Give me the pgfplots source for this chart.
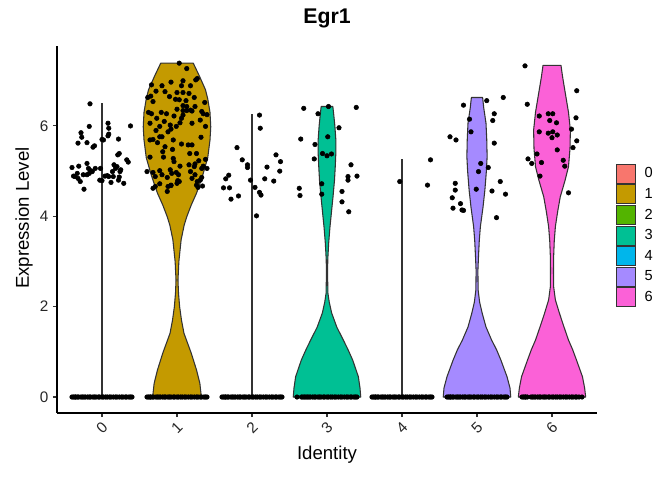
\documentclass[border=0pt]{standalone}
\usepackage{pgfplots}
\pgfplotsset{compat=1.18}
\usepackage{fontspec}
\setmainfont{Liberation Sans}
\definecolor{c0}{HTML}{F8766D}
\definecolor{c1}{HTML}{C49A00}
\definecolor{c2}{HTML}{53B400}
\definecolor{c3}{HTML}{00C094}
\definecolor{c4}{HTML}{00B6EB}
\definecolor{c5}{HTML}{A58AFF}
\definecolor{c6}{HTML}{FB61D7}
\definecolor{vl}{HTML}{333333}
\begin{document}
\begin{tikzpicture}
\useasboundingbox (0,0) rectangle (504bp,360bp);
\begin{axis}[
  at={(42.75bp,50.25bp)}, anchor=south west,
  scale only axis, width=405bp, height=275.25bp,
  xmin=-0.6, xmax=6.6, ymin=-0.354, ymax=7.77,
  axis x line*=bottom, axis y line*=left,
  axis line style={line width=0.8bp, black},
  tick align=outside, major tick length=3bp,
  tick style={line width=0.8bp, black!80},
  xtick={0,1,2,3,4,5,6}, xticklabels={0,1,2,3,4,5,6},
  ytick={0,2,4,6}, yticklabels={0,2,4,6},
  /pgf/number format/assume math mode=true,
  tick label style={font=\fontsize{11.5}{13}\selectfont, text=black!85},
  xticklabel style={yshift=-8.4bp, rotate=45, anchor=center},
  title={Egr1},
  title style={at={(axis description cs:0.5,1.039)}, anchor=base, yshift=0pt, font=\fontsize{16}{18}\selectfont\bfseries},
  xlabel={Identity},
  xlabel style={at={(axis description cs:0.5,-0.126)}, anchor=base, font=\fontsize{14}{16}\selectfont},
  ylabel={Expression Level},
  ylabel style={at={(axis description cs:-0.061,0.531)}, anchor=center, font=\fontsize{14}{16}\selectfont},
  legend image code/.code={\draw[#1] (0bp,-7.125bp) rectangle (14.25bp,7.125bp);},
  legend style={at={(axis description cs:1.035,0.68)}, anchor=north west, draw=none, fill=none,
    inner sep=0pt, outer sep=0pt, row sep=0pt, column sep=6.75bp,
    nodes={inner sep=0pt, minimum height=15.45bp, font=\fontsize{11}{13}\selectfont}},
  legend cell align=left,
]
% violins 0, 2, 4 (degenerate)
\addplot[forget plot, draw=vl, line width=0.8bp] coordinates {(0,0) (0,6.51)};
\addplot[forget plot, draw=vl, line width=0.8bp] coordinates {(2,0) (2,6.26)};
\addplot[forget plot, draw=vl, line width=0.8bp] coordinates {(4,0) (4,5.26)};
% violin 1
\addplot[forget plot, fill=c1, draw=vl, line width=0.8bp, line join=round] coordinates {
(1.325,0) (1.305,0.3) (1.26,0.6) (1.19,0.97) (1.093,1.41) (1.06,1.7) (1.035,2.0) (1.02,2.3) (1.013,2.59) (1.025,3.0) (1.055,3.48) (1.095,3.8) (1.13,3.99) (1.19,4.25) (1.26,4.51) (1.31,4.75) (1.35,4.95) (1.41,5.3) (1.44,5.69) (1.45,5.98) (1.44,6.3) (1.41,6.6) (1.38,6.8) (1.30,7.1) (1.217,7.39)
(0.783,7.39) (0.70,7.1) (0.62,6.8) (0.59,6.6) (0.56,6.3) (0.55,5.98) (0.56,5.69) (0.59,5.3) (0.65,4.95) (0.69,4.75) (0.74,4.51) (0.81,4.25) (0.87,3.99) (0.905,3.8) (0.945,3.48) (0.975,3.0) (0.987,2.59) (0.98,2.3) (0.965,2.0) (0.94,1.7) (0.907,1.41) (0.81,0.97) (0.74,0.6) (0.695,0.3) (0.675,0)
} -- cycle;
% violin 3
\addplot[forget plot, fill=c3, draw=vl, line width=0.8bp, line join=round] coordinates {
(3.45,0) (3.44,0.2) (3.418,0.45) (3.342,0.82) (3.28,1.05) (3.218,1.26) (3.13,1.55) (3.062,1.86) (3.03,2.1) (3.012,2.3) (3.008,2.7) (3.01,3.03) (3.022,3.4) (3.04,3.77) (3.06,4.1) (3.08,4.43) (3.10,4.8) (3.11,5.1) (3.118,5.4) (3.118,5.69) (3.105,6.0) (3.09,6.25) (3.078,6.43)
(2.922,6.43) (2.91,6.25) (2.895,6.0) (2.882,5.69) (2.882,5.4) (2.89,5.1) (2.90,4.8) (2.92,4.43) (2.94,4.1) (2.96,3.77) (2.978,3.4) (2.99,3.03) (2.992,2.7) (2.988,2.3) (2.97,2.1) (2.938,1.86) (2.87,1.55) (2.782,1.26) (2.72,1.05) (2.658,0.82) (2.582,0.45) (2.56,0.2) (2.55,0)
} -- cycle;
% violin 5
\addplot[forget plot, fill=c5, draw=vl, line width=0.8bp, line join=round] coordinates {
(5.45,0) (5.44,0.2) (5.40,0.45) (5.318,0.82) (5.26,1.05) (5.195,1.26) (5.12,1.55) (5.07,1.85) (5.035,2.1) (5.015,2.37) (5.012,2.8) (5.02,3.11) (5.03,3.45) (5.045,3.77) (5.08,4.2) (5.105,4.58) (5.125,5.0) (5.135,5.32) (5.13,5.7) (5.12,6.06) (5.09,6.4) (5.075,6.63)
(4.925,6.63) (4.91,6.4) (4.88,6.06) (4.87,5.7) (4.865,5.32) (4.875,5.0) (4.895,4.58) (4.92,4.2) (4.955,3.77) (4.97,3.45) (4.98,3.11) (4.988,2.8) (4.985,2.37) (4.965,2.1) (4.93,1.85) (4.88,1.55) (4.805,1.26) (4.74,1.05) (4.682,0.82) (4.60,0.45) (4.56,0.2) (4.55,0)
} -- cycle;
% violin 6
\addplot[forget plot, fill=c6, draw=vl, line width=0.8bp, line join=round] coordinates {
(6.449,0) (6.435,0.2) (6.406,0.45) (6.326,0.82) (6.275,1.05) (6.22,1.26) (6.16,1.55) (6.10,1.85) (6.045,2.15) (6.022,2.44) (6.02,2.8) (6.022,3.11) (6.03,3.45) (6.045,3.77) (6.075,4.1) (6.11,4.43) (6.175,4.8) (6.22,5.1) (6.24,5.5) (6.245,5.91) (6.22,6.3) (6.19,6.6) (6.17,6.8) (6.14,7.1) (6.12,7.34)
(5.88,7.34) (5.86,7.1) (5.83,6.8) (5.81,6.6) (5.78,6.3) (5.755,5.91) (5.76,5.5) (5.78,5.1) (5.825,4.8) (5.89,4.43) (5.925,4.1) (5.955,3.77) (5.97,3.45) (5.978,3.11) (5.98,2.8) (5.978,2.44) (5.955,2.15) (5.90,1.85) (5.84,1.55) (5.78,1.26) (5.725,1.05) (5.674,0.82) (5.594,0.45) (5.565,0.2) (5.551,0)
} -- cycle;
% zero-valued cells
\addplot[forget plot, only marks, mark=*, mark size=1.7bp, black] coordinates {
(-0.40,0) (-0.38,0) (-0.36,0) (-0.35,0) (-0.33,0) (-0.31,0) (-0.28,0) (-0.26,0) (-0.24,0) (-0.22,0) (-0.19,0) (-0.17,0) (-0.15,0) (-0.12,0) (-0.10,0) (-0.08,0) (-0.05,0) (-0.03,0) (0.00,0) (0.02,0) (0.05,0) (0.07,0) (0.10,0) (0.12,0) (0.15,0) (0.18,0) (0.20,0) (0.23,0) (0.26,0) (0.28,0) (0.31,0) (0.33,0) (0.36,0) (0.38,0) (0.40,0)
(0.60,0) (0.62,0) (0.64,0) (0.65,0) (0.67,0) (0.69,0) (0.72,0) (0.74,0) (0.76,0) (0.78,0) (0.81,0) (0.83,0) (0.85,0) (0.88,0) (0.90,0) (0.92,0) (0.95,0) (0.97,0) (1.00,0) (1.02,0) (1.05,0) (1.07,0) (1.10,0) (1.12,0) (1.15,0) (1.18,0) (1.20,0) (1.23,0) (1.26,0) (1.28,0) (1.31,0) (1.33,0) (1.36,0) (1.38,0) (1.40,0)
(1.60,0) (1.62,0) (1.64,0) (1.65,0) (1.67,0) (1.69,0) (1.72,0) (1.74,0) (1.76,0) (1.78,0) (1.81,0) (1.83,0) (1.85,0) (1.88,0) (1.90,0) (1.92,0) (1.95,0) (1.97,0) (2.00,0) (2.02,0) (2.05,0) (2.07,0) (2.10,0) (2.12,0) (2.15,0) (2.18,0) (2.20,0) (2.23,0) (2.26,0) (2.28,0) (2.31,0) (2.33,0) (2.36,0) (2.38,0) (2.40,0)
(2.60,0) (2.66,0) (2.68,0) (2.70,0) (2.72,0) (2.74,0) (2.76,0) (2.78,0) (2.81,0) (2.83,0) (2.85,0) (2.88,0) (2.90,0) (2.92,0) (2.95,0) (2.97,0) (3.00,0) (3.02,0) (3.05,0) (3.07,0) (3.10,0) (3.12,0) (3.15,0) (3.18,0) (3.20,0) (3.23,0) (3.26,0) (3.28,0) (3.31,0) (3.33,0) (3.36,0) (3.38,0) (3.40,0)
(3.60,0) (3.62,0) (3.64,0) (3.65,0) (3.67,0) (3.69,0) (3.72,0) (3.74,0) (3.76,0) (3.78,0) (3.81,0) (3.83,0) (3.85,0) (3.88,0) (3.90,0) (3.92,0) (3.95,0) (3.97,0) (4.00,0) (4.02,0) (4.05,0) (4.07,0) (4.10,0) (4.12,0) (4.15,0) (4.18,0) (4.20,0) (4.23,0) (4.26,0) (4.28,0) (4.31,0) (4.33,0) (4.36,0) (4.38,0) (4.40,0)
(4.60,0) (4.62,0) (4.64,0) (4.65,0) (4.67,0) (4.69,0) (4.72,0) (4.74,0) (4.76,0) (4.78,0) (4.81,0) (4.83,0) (4.85,0) (4.88,0) (4.90,0) (4.92,0) (4.95,0) (4.97,0) (5.00,0) (5.02,0) (5.05,0) (5.07,0) (5.10,0) (5.12,0) (5.15,0) (5.18,0) (5.20,0) (5.23,0) (5.26,0) (5.28,0) (5.31,0) (5.33,0) (5.36,0) (5.38,0) (5.40,0)
(5.60,0) (5.62,0) (5.64,0) (5.65,0) (5.67,0) (5.72,0) (5.74,0) (5.76,0) (5.78,0) (5.81,0) (5.83,0) (5.85,0) (5.88,0) (5.90,0) (5.92,0) (5.95,0) (5.97,0) (6.00,0) (6.02,0) (6.05,0) (6.07,0) (6.10,0) (6.12,0) (6.15,0) (6.18,0) (6.20,0) (6.23,0) (6.26,0) (6.28,0) (6.31,0) (6.33,0) (6.36,0) (6.40,0)
};
% expressing cells
\addplot[forget plot, only marks, mark=*, mark size=1.7bp, black] table {
x y
-0.16 6.49
-0.17 5.99
-0.28 5.85
-0.27 5.75
-0.32 5.62
-0.20 5.63
-0.12 5.53
-0.10 5.56
0.08 6.06
0.09 5.95
0.09 5.82
0.08 5.78
0.00 5.70
0.02 5.69
0.22 5.71
0.38 6.00
0.23 5.39
0.21 5.36
0.33 5.25
-0.20 5.17
-0.31 5.11
-0.40 5.08
-0.36 4.88
-0.32 4.84
-0.29 4.77
-0.38 4.89
-0.24 4.60
-0.18 5.06
-0.15 5.01
-0.17 4.95
-0.13 4.99
-0.09 5.06
-0.03 4.80
0.00 4.79
0.04 4.89
0.07 4.90
0.09 4.88
0.12 4.75
0.16 5.14
0.18 5.06
0.14 4.99
0.24 4.99
0.25 5.03
0.22 4.80
0.23 4.87
0.29 4.73
0.35 5.20
-0.25 4.92
-0.20 4.92
-0.33 4.95
-0.02 5.06
0.15 4.88
0.20 5.10
1.03 7.39
1.13 7.27
1.27 7.05
1.25 7.02
1.08 7.00
0.92 6.97
0.66 6.91
0.80 6.89
1.06 6.89
1.18 6.89
0.72 6.77
0.84 6.76
1.00 6.74
1.08 6.74
1.16 6.72
1.23 6.63
0.61 6.63
0.65 6.66
0.90 6.65
0.98 6.59
1.03 6.58
1.12 6.56
1.37 6.52
0.68 6.54
1.08 6.45
1.13 6.43
1.18 6.35
1.24 6.43
1.00 6.37
1.08 6.34
1.13 6.34
1.20 6.33
1.33 6.32
0.62 6.30
0.66 6.27
0.79 6.30
0.86 6.27
0.96 6.22
1.08 6.24
1.35 6.27
1.40 6.25
0.73 6.17
0.83 6.10
1.06 6.17
1.38 5.99
0.64 6.06
0.77 5.99
0.91 6.02
0.99 5.99
1.31 6.13
1.20 6.06
1.04 6.07
0.72 5.90
0.92 5.93
0.88 5.87
0.80 5.76
0.95 5.69
1.32 5.75
0.64 5.69
0.68 5.70
0.77 5.76
1.15 5.58
1.20 5.58
0.74 5.63
1.06 5.60
0.84 5.54
0.94 5.48
0.81 5.43
1.17 5.39
1.26 5.39
0.64 5.31
0.82 5.31
0.95 5.28
0.96 5.21
1.29 5.23
1.04 5.11
1.38 5.26
1.16 5.14
1.23 5.10
1.24 5.16
0.68 4.97
0.77 5.01
0.91 5.03
0.93 4.95
0.99 4.97
1.18 4.99
1.24 4.92
1.33 5.06
1.35 5.11
0.71 4.88
0.80 4.92
0.87 4.86
1.02 4.92
1.20 4.84
1.27 4.77
1.33 4.86
1.40 5.06
0.60 4.99
0.71 4.66
0.77 4.72
0.88 4.66
0.92 4.69
1.00 4.73
1.01 4.79
1.03 4.77
1.31 4.80
0.68 4.62
0.87 4.55
0.92 4.68
1.26 4.69
1.28 4.64
1.34 4.67
2.10 6.24
2.11 5.95
1.80 5.52
1.87 5.25
1.94 5.14
1.94 5.08
1.69 4.91
1.65 4.83
1.62 4.63
1.70 4.63
1.82 4.45
1.72 4.38
1.98 4.80
2.04 4.64
2.10 4.53
2.12 4.47
2.20 5.09
2.17 4.83
2.32 5.36
2.38 5.21
2.37 5.00
2.29 4.78
2.06 4.01
2.69 6.39
2.88 6.27
3.02 6.43
3.39 6.41
3.16 5.96
2.65 5.71
2.84 5.59
2.83 5.27
2.94 5.39
3.00 5.34
3.06 5.38
3.01 5.76
3.32 5.14
3.28 4.88
3.40 4.89
3.28 4.80
2.63 4.62
2.64 4.46
2.93 4.72
2.93 4.49
3.20 4.55
3.20 4.32
3.29 4.10
3.97 4.77
4.34 4.69
4.38 5.25
4.82 6.46
5.13 6.56
5.35 6.63
4.90 6.15
5.21 6.12
5.23 6.27
4.92 5.87
4.64 5.76
4.72 5.69
5.23 5.62
5.05 5.17
5.15 5.08
5.02 4.99
4.71 4.73
4.71 4.58
5.31 4.77
4.99 4.60
5.20 4.56
5.38 4.49
4.67 4.41
4.78 4.28
4.68 4.18
4.80 4.14
4.82 4.13
5.26 3.97
5.64 7.33
5.67 6.48
6.33 6.78
5.83 6.22
5.95 6.27
6.01 6.27
6.32 6.18
5.97 6.12
6.06 6.07
5.83 5.87
5.95 5.84
6.01 5.87
6.00 5.74
6.07 5.80
6.26 5.93
6.33 5.67
6.07 5.47
6.28 5.52
5.80 5.38
5.68 5.27
5.73 5.17
5.86 5.19
6.15 5.24
6.17 5.11
5.84 4.89
6.22 4.52
};
% legend
\addlegendimage{fill=c0, draw=vl, line width=0.6bp}\addlegendentry{0}
\addlegendimage{fill=c1, draw=vl, line width=0.6bp}\addlegendentry{1}
\addlegendimage{fill=c2, draw=vl, line width=0.6bp}\addlegendentry{2}
\addlegendimage{fill=c3, draw=vl, line width=0.6bp}\addlegendentry{3}
\addlegendimage{fill=c4, draw=vl, line width=0.6bp}\addlegendentry{4}
\addlegendimage{fill=c5, draw=vl, line width=0.6bp}\addlegendentry{5}
\addlegendimage{fill=c6, draw=vl, line width=0.6bp}\addlegendentry{6}
\end{axis}
\end{tikzpicture}
\end{document}
